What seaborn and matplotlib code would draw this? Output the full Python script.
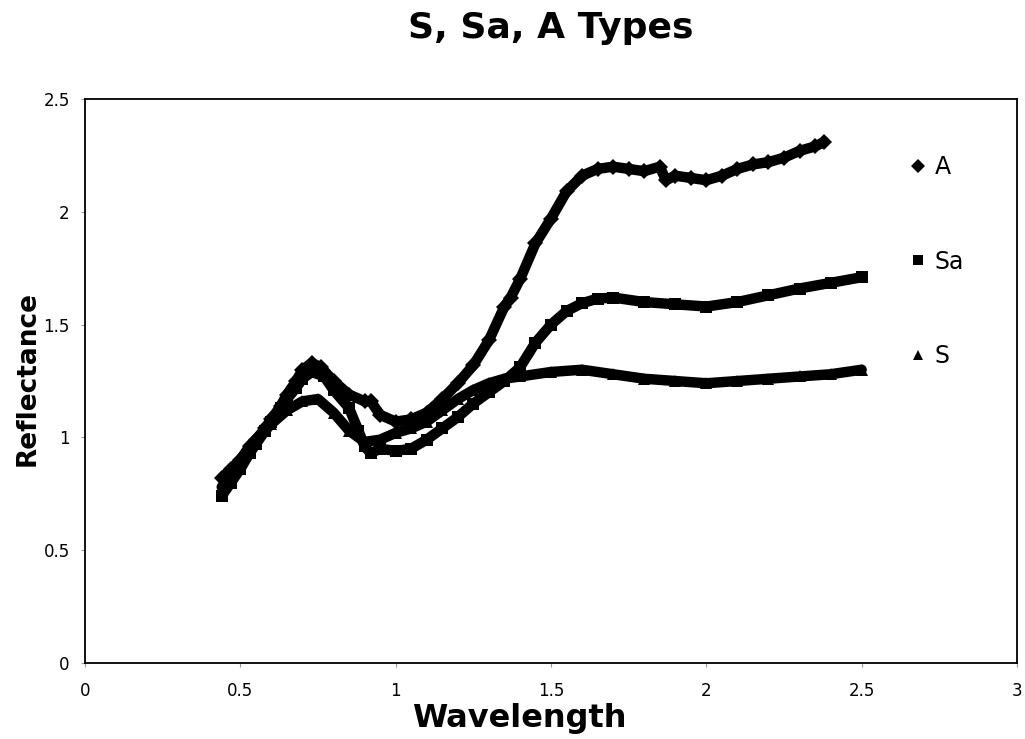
import numpy as np
import pandas as pd
import matplotlib
matplotlib.use("Agg")
import matplotlib.pyplot as plt
from matplotlib.lines import Line2D
import seaborn as sns

# ---- data ----
wl_A = [0.44, 0.47, 0.50, 0.53, 0.55, 0.58, 0.60, 0.63, 0.65, 0.68, 0.70, 0.73, 0.76, 0.80,
        0.85, 0.90, 0.92, 0.95, 1.00, 1.05, 1.10, 1.15, 1.20, 1.25, 1.30, 1.35, 1.37, 1.40,
        1.45, 1.50, 1.55, 1.60, 1.65, 1.70, 1.75, 1.80, 1.85, 1.87, 1.90, 1.95, 2.00, 2.05,
        2.10, 2.15, 2.20, 2.25, 2.30, 2.35, 2.38]
refl_A = [0.82, 0.86, 0.90, 0.96, 0.99, 1.04, 1.08, 1.14, 1.19, 1.25, 1.30, 1.33, 1.31, 1.25,
          1.19, 1.16, 1.16, 1.10, 1.07, 1.08, 1.11, 1.17, 1.24, 1.32, 1.43, 1.58, 1.62, 1.70,
          1.86, 1.97, 2.09, 2.16, 2.19, 2.20, 2.19, 2.18, 2.20, 2.14, 2.16, 2.15, 2.14, 2.16,
          2.19, 2.21, 2.22, 2.24, 2.27, 2.29, 2.31]

wl_Sa = [0.44, 0.47, 0.50, 0.53, 0.55, 0.58, 0.60, 0.63, 0.65, 0.68, 0.70, 0.73, 0.77, 0.80,
         0.85, 0.88, 0.90, 0.92, 0.95, 1.00, 1.05, 1.10, 1.15, 1.20, 1.25, 1.30, 1.35, 1.40,
         1.45, 1.50, 1.55, 1.60, 1.65, 1.70, 1.80, 1.90, 2.00, 2.10, 2.20, 2.30, 2.40, 2.50]
refl_Sa = [0.74, 0.80, 0.86, 0.93, 0.97, 1.03, 1.07, 1.13, 1.17, 1.22, 1.26, 1.29, 1.27, 1.21,
           1.13, 1.03, 0.96, 0.93, 0.95, 0.94, 0.95, 0.99, 1.04, 1.09, 1.15, 1.20, 1.25, 1.31,
           1.42, 1.50, 1.56, 1.595, 1.615, 1.62, 1.60, 1.59, 1.58, 1.60, 1.63, 1.66, 1.685, 1.71]

wl_S = [0.44, 0.47, 0.50, 0.53, 0.55, 0.58, 0.60, 0.65, 0.70, 0.75, 0.80, 0.85, 0.90, 0.95,
        1.00, 1.05, 1.10, 1.15, 1.20, 1.25, 1.30, 1.35, 1.40, 1.50, 1.60, 1.70, 1.80, 1.90,
        2.00, 2.10, 2.20, 2.30, 2.40, 2.50]
refl_S = [0.78, 0.84, 0.90, 0.96, 0.99, 1.03, 1.06, 1.12, 1.16, 1.17, 1.11, 1.03, 0.98, 0.99,
          1.02, 1.04, 1.07, 1.12, 1.17, 1.21, 1.24, 1.26, 1.27, 1.29, 1.30, 1.28, 1.26, 1.25,
          1.24, 1.25, 1.26, 1.27, 1.28, 1.30]

series_names = ["A", "Sa", "S"]
x_ticks = [0, 0.5, 1, 1.5, 2, 2.5, 3]
y_ticks = [0, 0.5, 1, 1.5, 2, 2.5]

df = pd.concat([
    pd.DataFrame({"Wavelength": wl_A, "Reflectance": refl_A, "Type": "A"}),
    pd.DataFrame({"Wavelength": wl_Sa, "Reflectance": refl_Sa, "Type": "Sa"}),
    pd.DataFrame({"Wavelength": wl_S, "Reflectance": refl_S, "Type": "S"}),
], ignore_index=True)

sns.set_theme(style="white")
plt.rcParams["font.family"] = ["DejaVu Sans"]
plt.rcParams["text.color"] = "black"
plt.rcParams["axes.labelcolor"] = "black"

fig = plt.figure(figsize=(10.25, 7.39), dpi=100)
ax = fig.add_axes([85 / 1025, 1 - 663 / 739, 932 / 1025, 564 / 739])

markers = {"A": "D", "Sa": "s", "S": "^"}
sns.lineplot(data=df, x="Wavelength", y="Reflectance", hue="Type", style="Type",
             markers=markers, dashes=False, sort=False, estimator=None,
             palette={"A": "black", "Sa": "black", "S": "black"},
             linewidth=7.5, markersize=8, markeredgewidth=0, legend=False, ax=ax)

ax.set_xlim(0, 3)
ax.set_ylim(0, 2.5)
ax.set_xticks(x_ticks)
ax.set_xticklabels([f"{t:g}" for t in x_ticks])
ax.set_yticks(y_ticks)
ax.set_yticklabels([f"{t:g}" for t in y_ticks])
ax.tick_params(axis="both", which="major", direction="out", length=3, width=0.8,
               color="#999999", labelsize=12, labelcolor="black", pad=8, bottom=True, left=True)
ax.tick_params(axis="x", pad=11)
for sp in ax.spines.values():
    sp.set_color("black")
    sp.set_linewidth(1.3)
    sp.set_visible(True)

ax.set_xlabel("")
ax.set_ylabel("")
fig.text(519 / 1025, 1 - 718 / 739, "Wavelength", fontsize=23, fontweight="bold",
         ha="center", va="center")
fig.text(28 / 1025, 1 - 378 / 739, "Reflectance", fontsize=19, fontweight="bold",
         ha="center", va="center", rotation=90)
fig.text(551 / 1025, 1 - 28 / 739, "S, Sa, A Types", fontsize=26, fontweight="bold",
         ha="center", va="center")

handles = [Line2D([], [], linestyle="none", marker=markers[n], color="black",
                  markersize=7 if n != "Sa" else 6.5, markeredgewidth=0) for n in series_names]
ax.legend(handles, series_names, loc="upper left", bbox_to_anchor=(0.871, 0.921),
          frameon=False, fontsize=17, labelspacing=2.98, handlelength=0.8,
          handletextpad=0.3, borderpad=0)

fig.savefig("out.png", dpi=100, facecolor="white")
